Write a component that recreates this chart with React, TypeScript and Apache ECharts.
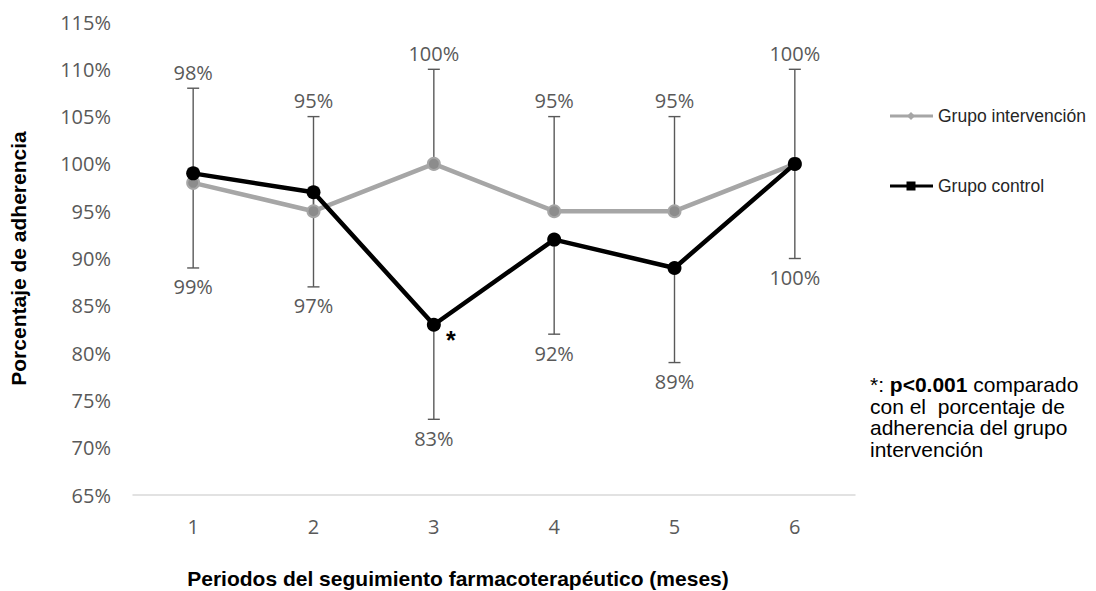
import React, { useEffect, useRef } from "react";
import * as echarts from "echarts";

const categories = ["1", "2", "3", "4", "5", "6"];
const intervencion = [98, 95, 100, 95, 95, 100];
const control = [99, 97, 83, 92, 89, 100];
const intervencionUpper = [108, 105, 110, 105, 105, 110];
const controlLower = [89, 87, 73, 82, 79, 90];
const yTicks = [65, 70, 75, 80, 85, 90, 95, 100, 105, 110, 115];

const LABEL_FAMILY = "Open Sans";
const LABEL_SIZE = 20;
const LABEL_FONT = `${LABEL_SIZE}px "${LABEL_FAMILY}"`;

function makeErrorRender(dir: "up" | "down") {
  return (params: any, api: any) => {
    const idx = api.value(0);
    const v = api.value(1);
    const e = api.value(2);
    const p0 = api.coord([idx, v]);
    const p1 = api.coord([idx, e]);
    const st = { stroke: "#595959", lineWidth: 1.4 };
    return {
      type: "group",
      children: [
        { type: "line", shape: { x1: p0[0], y1: p0[1], x2: p1[0], y2: p1[1] }, style: st },
        { type: "line", shape: { x1: p1[0] - 6, y1: p1[1], x2: p1[0] + 6, y2: p1[1] }, style: st },
        {
          type: "text",
          x: p1[0],
          y: dir === "up" ? p1[1] - 6 : p1[1] + 9,
          style: {
            text: v + "%",
            align: "center",
            verticalAlign: dir === "up" ? "bottom" : "top",
            font: LABEL_FONT,
            fill: "#595959",
          },
        },
      ],
    };
  };
}

export default function App() {
  const ref = useRef<HTMLDivElement>(null);
  useEffect(() => {
    if (!ref.current) return;
    const chart = echarts.init(ref.current, null, { renderer: "svg" });
    chart.setOption({
      animation: false,
      backgroundColor: "#ffffff",
      grid: { left: 133, right: 241, top: 22, bottom: 96, containLabel: false, outerBoundsMode: "none" },
      xAxis: {
        type: "category",
        data: categories,
        axisLine: { lineStyle: { color: "#D9D9D9", width: 1.5 } },
        axisTick: { show: false },
        axisLabel: { color: "#595959", fontFamily: LABEL_FAMILY, fontSize: LABEL_SIZE, margin: 21 },
        name: "Periodos del seguimiento farmacoterapéutico (meses)",
        nameLocation: "middle",
        nameGap: 73,
        nameTextStyle: {
          fontFamily: "Liberation Sans",
          fontWeight: "bold",
          fontSize: 21,
          color: "#000",
          padding: [0, 72, 0, 0],
        },
      },
      yAxis: {
        type: "value",
        min: yTicks[0],
        max: yTicks[yTicks.length - 1],
        interval: 5,
        axisLine: { show: false },
        axisTick: { show: false },
        splitLine: { show: false },
        axisLabel: {
          color: "#595959",
          fontFamily: LABEL_FAMILY,
          fontSize: LABEL_SIZE,
          margin: 22,
          formatter: (v: number) => v + "%",
        },
        name: "Porcentaje de adherencia",
        nameLocation: "middle",
        nameGap: 104,
        nameTextStyle: { fontFamily: "Liberation Sans", fontWeight: "bold", fontSize: 21, color: "#000" },
      },
      series: [
        {
          type: "custom",
          name: "errInt",
          renderItem: makeErrorRender("up"),
          data: intervencion.map((v, i) => [i, v, intervencionUpper[i]]),
          encode: { x: 0, y: [1, 2] },
          z: 1,
          silent: true,
        },
        {
          type: "custom",
          name: "errCtl",
          renderItem: makeErrorRender("down"),
          data: control.map((v, i) => [i, v, controlLower[i]]),
          encode: { x: 0, y: [1, 2] },
          z: 1,
          silent: true,
        },
        {
          type: "line",
          name: "Grupo intervención",
          data: intervencion,
          symbol: "circle",
          symbolSize: 12,
          lineStyle: { color: "#A6A6A6", width: 4.5 },
          itemStyle: { color: "#8C8C8C", borderColor: "#A6A6A6", borderWidth: 2 },
          z: 3,
        },
        {
          type: "line",
          name: "Grupo control",
          data: control,
          symbol: "circle",
          symbolSize: 14,
          lineStyle: { color: "#000000", width: 4.5 },
          itemStyle: { color: "#000000" },
          z: 4,
        },
      ],
      graphic: [
        { type: "text", left: 446, top: 327, style: { text: "*", font: 'bold 25px "Liberation Sans"', fill: "#000" } },
        { type: "line", shape: { x1: 890, y1: 116, x2: 933, y2: 116 }, style: { stroke: "#A6A6A6", lineWidth: 3 } },
        { type: "polygon", shape: { points: [[911, 112], [915, 116], [911, 120], [907, 116]] }, style: { fill: "#A6A6A6" } },
        { type: "text", x: 938, y: 116, style: { text: "Grupo intervención", font: '17.5px "Liberation Sans"', fill: "#262626", verticalAlign: "middle" } },
        { type: "line", shape: { x1: 890, y1: 186, x2: 933, y2: 186 }, style: { stroke: "#000", lineWidth: 3 } },
        { type: "rect", shape: { x: 906.5, y: 181.5, width: 9, height: 9 }, style: { fill: "#000" } },
        { type: "text", x: 938, y: 186, style: { text: "Grupo control", font: '17.5px "Liberation Sans"', fill: "#262626", verticalAlign: "middle" } },
        {
          type: "text",
          x: 870,
          y: 374,
          style: {
            text: "{n|*: }{b|p<0.001}{n| comparado}\n{n|con el  porcentaje de}\n{n|adherencia del grupo}\n{n|intervención}",
            rich: {
              n: { font: '21px "Liberation Sans"', fill: "#000", lineHeight: 21.5 },
              b: { font: 'bold 21px "Liberation Sans"', fill: "#000", lineHeight: 21.5 },
            },
            fill: "#000",
          },
        },
      ],
    });
    return () => chart.dispose();
  }, []);
  return (
    <div
      ref={ref}
      style={{ position: "fixed", left: 0, top: 0, width: 1096, height: 591 }}
    />
  );
}
